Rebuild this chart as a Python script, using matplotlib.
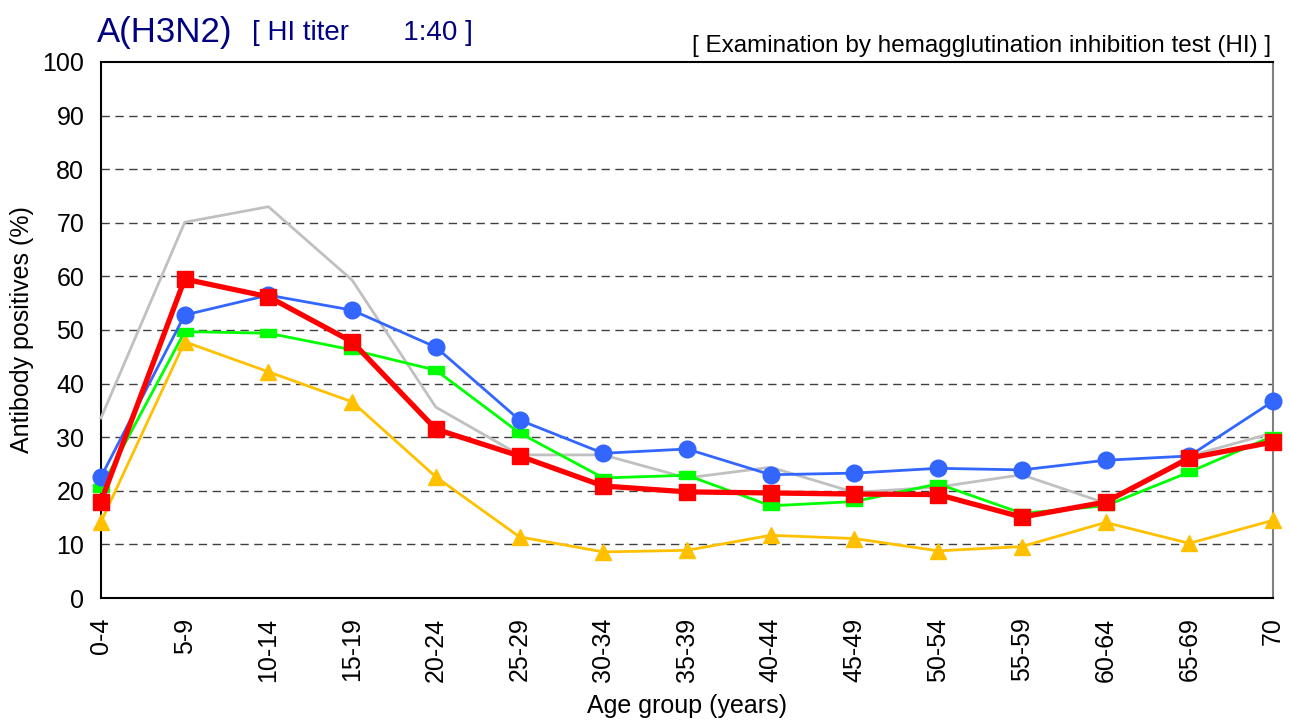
import matplotlib
matplotlib.use('Agg')
import matplotlib.pyplot as plt
import numpy as np

plt.rcParams['font.family'] = ['Liberation Sans', 'DejaVu Sans']

age_groups = ['0-4', '5-9', '10-14', '15-19', '20-24', '25-29', '30-34', '35-39',
              '40-44', '45-49', '50-54', '55-59', '60-64', '65-69', '70']

gray_vals = [33.6, 70.1, 73.0, 59.3, 35.6, 26.7, 26.7, 22.4, 24.4, 19.7, 20.7, 23.0, 17.7, 26.5, 30.8]
blue_vals = [22.6, 52.8, 56.5, 53.7, 46.8, 33.2, 27.0, 27.8, 23.0, 23.3, 24.2, 23.9, 25.7, 26.5, 36.7]
green_vals = [20.5, 49.7, 49.4, 46.3, 42.5, 30.8, 22.4, 22.9, 17.2, 18.0, 21.3, 15.8, 17.2, 23.5, 30.2]
yellow_vals = [14.2, 47.8, 42.2, 36.6, 22.6, 11.4, 8.6, 8.9, 11.7, 11.1, 8.8, 9.6, 14.1, 10.2, 14.5]
red_vals = [18.0, 59.5, 56.2, 47.8, 31.5, 26.5, 20.9, 19.8, 19.6, 19.4, 19.3, 15.1, 17.9, 26.1, 29.1]

x = np.arange(len(age_groups))

fig = plt.figure(figsize=(12.9, 7.24), dpi=100)
ax = fig.add_axes([0.0783, 0.174, 0.9085, 0.7404])

# flat rectangle marker for the green series
rect = [(-1, -0.45), (1, -0.45), (1, 0.45), (-1, 0.45), (-1, -0.45)]

ax.plot(x, gray_vals, color='#C0C0C0', lw=2, clip_on=False, zorder=3)
ax.plot(x, yellow_vals, color='#FFC000', lw=2, marker='^', ms=11.5, clip_on=False, zorder=4)
ax.plot(x, green_vals, color='#00FF00', lw=2, marker=rect, ms=12, clip_on=False, zorder=5)
ax.plot(x, blue_vals, color='#3366FF', lw=2, marker='o', ms=12, clip_on=False, zorder=6)
ax.plot(x, red_vals, color='#FF0000', lw=3.8, marker='s', ms=12, clip_on=False, zorder=7)

ax.set_xlim(0, 14)
ax.set_ylim(0, 100)
ax.set_yticks(range(0, 101, 10))
ax.set_xticks(x)
ax.set_xticklabels(age_groups, rotation=90, fontsize=18)
ax.tick_params(axis='y', labelsize=18, length=0, pad=12)
ax.tick_params(axis='x', length=0, pad=14)
for v in range(10, 100, 10):
    ax.axhline(v, color='#404040', lw=1, ls=(0, (6, 4)), zorder=1)
for s in ax.spines.values():
    s.set_linewidth(1.5)
ax.spines['right'].set_color('#808080')

ax.set_xlabel('Age group (years)', fontsize=18, labelpad=9)
ax.set_ylabel('Antibody positives (%)', fontsize=18, labelpad=6)

fig.text(0.075, 0.955, 'A(H3N2)', color='#000080', fontsize=25, va='center')
fig.text(0.195, 0.955, '[ HI titer       1:40 ]', color='#000080', fontsize=20, va='center')
fig.text(0.985, 0.937, '[ Examination by hemagglutination inhibition test (HI) ]',
         fontsize=17.5, ha='right', va='center')

fig.savefig('out.png', dpi=100)
